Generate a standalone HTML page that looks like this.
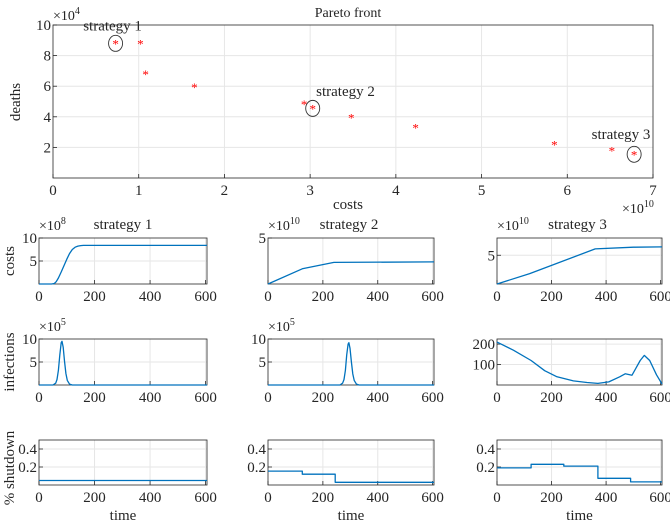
<!DOCTYPE html>
<html><head><meta charset="utf-8"><style>
body{margin:0;background:#fff}
svg{display:block;font-family:"Liberation Serif",serif}
</style></head><body>
<svg id="c" width="670" height="525" viewBox="0 0 670 525"></svg>
<script>
// ---- Pareto data ----
const paretoCosts=[0.73,1.02,1.08,1.65,2.93,3.03,3.48,4.23,5.85,6.52,6.78];
const paretoDeaths=[8.8,8.8,6.8,5.95,4.85,4.55,3.95,3.3,2.2,1.8,1.55];
const circledIdx=[0,5,10];
const strategyNames=["strategy 1","strategy 2","strategy 3"];
const paretoXTicks=[0,1,2,3,4,5,6,7];
const paretoYTicks=[2,4,6,8,10];
// ---- time series ----
const s1CostT=[0,45,55,62,70,80,90,100,110,120,130,140,150,160,605];
const s1CostV=[0,0,0.1,0.5,1.3,2.6,4.0,5.4,6.6,7.5,8.0,8.25,8.35,8.4,8.4];
const s2CostT=[0,125,240,605];
const s2CostV=[0,1.65,2.35,2.4];
const s3CostT=[0,120,360,500,605];
const s3CostV=[0,1.8,6.1,6.4,6.45];
const s1InfT=[0,50,60,65,70,75,80,83,87,92,97,102,110,120,605];
const s1InfV=[0,0,0.4,1.2,3.2,6.5,9.2,9.5,8.2,5.2,2.5,1.0,0.2,0,0];
const s2InfT=[0,262,272,277,282,287,292,295,299,304,309,314,322,332,605];
const s2InfV=[0,0,0.4,1.2,3.2,6.5,8.9,9.2,8.0,5.0,2.4,1.0,0.2,0,0];
const s3InfT=[0,60,125,175,220,280,330,370,410,450,470,495,525,540,560,585,605];
const s3InfV=[210,170,120,70,40,20,12,8,15,40,55,48,120,145,120,50,5];
const s1ShutT=[0,605];
const s1ShutV=[0.05,0.05];
const s2ShutT=[0,125,125,245,245,605];
const s2ShutV=[0.155,0.155,0.12,0.12,0.03,0.03];
const s3ShutT=[0,125,125,245,245,370,370,490,490,605];
const s3ShutV=[0.19,0.19,0.23,0.23,0.21,0.21,0.075,0.075,0.035,0.035];
const timeTicks=[0,200,400,600];

const NS="http://www.w3.org/2000/svg";
const svg=document.getElementById('c');
function el(tag,attrs,parent){const e=document.createElementNS(NS,tag);for(const k in attrs)e.setAttribute(k,attrs[k]);(parent||svg).appendChild(e);return e;}
function txt(x,y,s,size,anchor,parent,rot){const t=el('text',{x:x,y:y,'font-size':size,'text-anchor':anchor||'middle',fill:'#262626'},parent);if(rot)t.setAttribute('transform','rotate(-90 '+x+' '+y+')');t.textContent=s;return t;}
function mult(x,y,exp,parent){const t=el('text',{x:x,y:y,'font-size':14,'text-anchor':'start',fill:'#262626'},parent);t.textContent='×10';const sp=el('tspan',{dy:-6,'font-size':10},t);sp.textContent=exp;return t;}

function axes(name,x0,y0,x1,y1,xmin,xmax,ymin,ymax,xt,yt,ytl){
  const g=el('g',{});
  
  
  const sx=v=>x0+(v-xmin)/(xmax-xmin)*(x1-x0);
  const sy=v=>y1-(v-ymin)/(ymax-ymin)*(y1-y0);
  xt.forEach(v=>{const X=sx(v);if(X>x0+1&&X<x1-1)el('line',{x1:X,x2:X,y1:y0,y2:y1,stroke:'#e6e6e6','stroke-width':1},g);});
  yt.forEach(v=>{const Y=sy(v);if(Y>y0+1&&Y<y1-1)el('line',{x1:x0,x2:x1,y1:Y,y2:Y,stroke:'#e6e6e6','stroke-width':1},g);});
  el('rect',{x:x0,y:y0,width:x1-x0,height:y1-y0,fill:'none',stroke:'#262626','stroke-width':0.8},g);
  xt.forEach(v=>{const X=sx(v);el('line',{x1:X,x2:X,y1:y1,y2:y1-4,stroke:'#262626','stroke-width':0.8},g);txt(X,y1+17,String(v),15,'middle',g);});
  yt.forEach((v,i)=>{const Y=sy(v);el('line',{x1:x0,x2:x0+4,y1:Y,y2:Y,stroke:'#262626','stroke-width':0.8},g);txt(x0-2,Y+5,ytl?ytl[i]:String(v),15,'end',g);});
  return {g,sx,sy};
}
function line(ax,T,V,name){
  const d=T.map((t,i)=>(i?'L':'M')+ax.sx(t).toFixed(1)+','+ax.sy(V[i]).toFixed(1)).join('');
  const p=el('path',{d:d,fill:'none',stroke:'#0072bd','stroke-width':1.3,'stroke-linejoin':'round'},ax.g);
  
  
}

// Pareto
txt(348,17,'Pareto front',14);
const pa=axes('pareto-axes',53,25,653,178,0,7,0,10,paretoXTicks,paretoYTicks);
mult(53,20,'4',pa.g);
txt(20,102,'deaths',15,'middle',svg,true);
txt(348,209,'costs',15);
mult(622,213,'10');
paretoCosts.forEach((c,i)=>{
  const X=pa.sx(c),Y=pa.sy(paretoDeaths[i]);
  const s=el('text',{x:X,y:Y+5,'font-size':13,'text-anchor':'middle',fill:'#ff0000'},pa.g);
  s.textContent='*';
  
  
});
circledIdx.forEach((idx,k)=>{
  const X=pa.sx(paretoCosts[idx]),Y=pa.sy(paretoDeaths[idx]);
  const c=el('ellipse',{cx:X,cy:Y,rx:7,ry:8,fill:'none',stroke:'#333','stroke-width':0.9},pa.g);
  
  
});
txt(pa.sx(0.73)-3,pa.sy(9.65),strategyNames[0],15,'middle',pa.g);
txt(pa.sx(3.07),pa.sy(5.35),strategyNames[1],15,'start',pa.g);
txt(621,pa.sy(2.55),strategyNames[2],15,'middle',pa.g);

// small multiples
const cols=[[39,207],[268,434],[497,662]];
const rows=[[238,284],[339,385],[440,485]];
const costCfg=[[10,[5,10],'8',s1CostT,s1CostV],[5,[5],'10',s2CostT,s2CostV],[8,[5],'10',s3CostT,s3CostV]];
const infCfg=[[10,[5,10],'5',s1InfT,s1InfV],[10,[5,10],'5',s2InfT,s2InfV],[225,[100,200],null,s3InfT,s3InfV]];
const shutCfg=[[s1ShutT,s1ShutV],[s2ShutT,s2ShutV],[s3ShutT,s3ShutV]];
for(let c=0;c<3;c++){
  const [x0,x1]=cols[c];
  txt((x0+x1)/2+(c==0?0:-2),229,strategyNames[c],15);
  let cf=costCfg[c];
  let a=axes('costs-axes-'+(c+1),x0,rows[0][0],x1,rows[0][1],0,605,0,cf[0],timeTicks,cf[1]);
  mult(x0,230,cf[2],a.g);
  line(a,cf[3],cf[4],'costs-line-'+(c+1));
  cf=infCfg[c];
  a=axes('infections-axes-'+(c+1),x0,rows[1][0],x1,rows[1][1],0,605,0,cf[0],timeTicks,cf[1]);
  if(cf[2])mult(x0,331,cf[2],a.g);
  line(a,cf[3],cf[4],'infections-line-'+(c+1));
  a=axes('shutdown-axes-'+(c+1),x0,rows[2][0],x1,rows[2][1],0,605,0,0.5,timeTicks,[0.2,0.4]);
  line(a,shutCfg[c][0],shutCfg[c][1],'shutdown-line-'+(c+1));
  txt((x0+x1)/2,520,'time',15);
}
txt(14,261,'costs',15,'middle',svg,true);
txt(14,362,'infections',15,'middle',svg,true);
txt(14,468,'% shutdown',15,'middle',svg,true);
</script>
</body></html>
